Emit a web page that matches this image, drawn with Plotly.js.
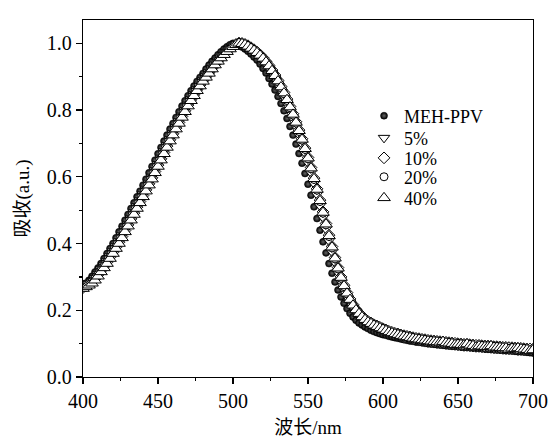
<!DOCTYPE html>
<html>
<head>
<meta charset="utf-8">
<script src="https://cdn.plot.ly/plotly-3.0.1.min.js"></script>
<style>html,body{margin:0;padding:0;background:#fff;}#chart{width:552px;height:438px;}</style>
</head>
<body>
<div id="chart"></div>
<script>
const wavelength = [400,402,404,406,408,410,412,414,416,418,420,422,424,426,428,430,432,434,436,438,440,442,444,446,448,450,452,454,456,458,460,462,464,466,468,470,472,474,476,478,480,482,484,486,488,490,492,494,496,498,500,502,504,506,508,510,512,514,516,518,520,522,524,526,528,530,532,534,536,538,540,542,544,546,548,550,552,554,556,558,560,562,564,566,568,570,572,574,576,578,580,582,584,586,588,590,592,594,596,598,600,602,604,606,608,610,612,614,616,618,620,622,624,626,628,630,632,634,636,638,640,642,644,646,648,650,652,654,656,658,660,662,664,666,668,670,672,674,676,678,680,682,684,686,688,690,692,694,696,698,700];

const seriesNames = ["MEH-PPV", "5%", "10%", "20%", "40%"];

const mehPPV = [.275,.281,.290,.302,.315,.327,.340,.355,.370,.385,.400,.417,.435,.452,.470,.487,.505,.522,.540,.557,.575,.593,.612,.631,.650,.669,.688,.707,.725,.743,.760,.778,.795,.812,.828,.843,.858,.872,.886,.898,.910,.923,.935,.946,.956,.966,.975,.983,.990,.996,1.000,.999,.995,.989,.983,.976,.968,.959,.950,.938,.925,.911,.895,.878,.860,.841,.820,.798,.775,.751,.725,.698,.670,.641,.610,.578,.545,.510,.475,.440,.405,.372,.340,.311,.285,.261,.240,.221,.205,.191,.180,.170,.162,.156,.150,.145,.140,.136,.133,.130,.127,.125,.122,.120,.118,.116,.114,.112,.110,.108,.107,.105,.104,.103,.101,.100,.099,.098,.097,.096,.095,.094,.093,.092,.092,.091,.090,.089,.089,.088,.087,.087,.086,.085,.084,.083,.083,.082,.081,.081,.080,.079,.079,.078,.077,.076,.076,.075,.074,.073,.072];

const pct5 = [.272,.277,.282,.288,.297,.309,.322,.334,.347,.362,.377,.392,.407,.424,.442,.459,.477,.494,.512,.529,.547,.564,.582,.600,.619,.638,.657,.676,.695,.713,.731,.749,.766,.783,.800,.816,.832,.847,.862,.876,.889,.901,.913,.925,.937,.948,.958,.967,.976,.984,.991,.996,.999,
.998,.994,.988,.981,.974,.966,.957,.947,.936,.923,.909,.894,.877,.859,.840,.820,.798,.775,.751,.726,.699,.671,.642,.612,.580,.547,.513,.478,.443,.408,.375,.343,.313,.286,.262,.241,.223,.207,.194,.183,.174,.167,.160,.155,.150,.146,.142,.138,
.135,.131,.128,.125,.123,.120,.118,.116,.114,.112,.110,.109,.107,.106,.104,.103,.102,.101,.100,.099,.098,.097,.096,.095,.094,.093,.092,.092,.091,.090,.089,.089,.088,.087,.087,.086,.085,.085,.084,.083,.083,.082,.082,.081,.080,.080,.079,.078,.078,.077];

const pct10 = [.268,.273,.279,.285,.294,.306,.319,.331,.344,.359,.374,.389,.404,.421,.439,.456,.474,.491,.509,.526,.544,.561,.579,.597,.616,.635,.654,.673,.692,.711,.729,.746,.763,.781,.798,.815,.831,.846,.861,.875,.888,.900,.912,.925,.937,.948,.958,.968,.977,.985,.992,.997,1.001,
1.000,.997,.993,.987,.981,.974,.966,.957,.946,.934,.920,.905,.889,.871,.853,.833,.811,.789,.765,.740,.714,.686,.658,.628,.596,.564,.530,.495,.460,.425,.391,.358,.328,.300,.275,.253,.234,.217,.203,.192,.182,.174,.167,.162,.157,.153,.149,.145,
.141,.137,.134,.131,.129,.126,.124,.122,.120,.118,.116,.115,.113,.112,.110,.109,.108,.107,.106,.105,.104,.103,.102,.101,.100,.099,.098,.098,.097,.096,.095,.095,.094,.093,.093,.092,.091,.091,.090,.089,.089,.088,.088,.087,.086,.086,.085,.084,.084,.083];

const pct20 = [.270,.275,.280,.286,.295,.307,.320,.332,.345,.360,.375,.390,.405,.422,.440,.457,.475,.492,.510,.527,.545,.562,.580,.598,.617,.636,.655,.674,.693,.712,.730,.748,.765,.782,.799,.816,.832,.847,.861,.875,.889,.901,.913,.925,.937,.948,.958,.967,.976,.984,.991,.996,.999,
.999,.995,.990,.984,.977,.970,.962,.953,.942,.930,.916,.901,.885,.867,.849,.829,.807,.785,.761,.736,.710,.682,.654,.624,.592,.560,.526,.491,.456,.421,.387,.354,.324,.296,.271,.249,.230,.213,.199,.188,.178,.170,.163,.158,.153,.149,.145,.141,
.137,.133,.130,.127,.125,.122,.120,.118,.116,.114,.112,.111,.109,.108,.106,.105,.104,.103,.102,.101,.100,.099,.098,.097,.096,.095,.094,.094,.093,.092,.091,.091,.090,.089,.089,.088,.087,.087,.086,.085,.085,.084,.084,.083,.082,.082,.081,.080,.080,.079];

const pct40 = [.265,.270,.275,.281,.290,.302,.315,.327,.340,.355,.370,.385,.400,.417,.435,.452,.470,.487,.505,.522,.540,.557,.575,.593,.612,.631,.650,.669,.688,.707,.725,.743,.760,.778,.795,.812,.828,.843,.858,.872,.886,.898,.910,.923,.935,.946,.956,.966,.975,.983,.990,.996,1.000,
.999,.996,.991,.985,.979,.972,.964,.955,.944,.932,.918,.903,.887,.869,.851,.831,.809,.787,.763,.738,.712,.684,.656,.626,.594,.562,.528,.493,.458,.423,.389,.356,.326,.298,.273,.251,.232,.215,.201,.190,.180,.172,.165,.160,.155,.151,.147,.143,
.139,.135,.132,.129,.127,.124,.122,.120,.118,.116,.114,.113,.111,.110,.108,.107,.106,.105,.104,.106,.102,.101,.100,.097,.098,.097,.096,.099,.095,.094,.090,.093,.092,.091,.091,.093,.089,.089,.088,.087,.087,.083,.086,.085,.087,.084,.083,.082,.079,.081];

const serifFamily = "Liberation Serif";
const cjkFamily = "Liberation Serif, Noto Sans CJK SC";

const styles = [
  {symbol: "circle", size: 7, color: "#000", gradient: {type: "radial", color: "#666"}, line: {color: "#000", width: 0.5}},
  {symbol: "triangle-down", size: 10, color: "#fff", line: {color: "#000", width: 1}},
  {symbol: "diamond", size: 9, color: "#fff", line: {color: "#000", width: 1}},
  {symbol: "circle", size: 8, color: "#fff", line: {color: "#000", width: 1}},
  {symbol: "triangle-up", size: 11, color: "#fff", line: {color: "#000", width: 1}}
];
const seriesData = [mehPPV, pct5, pct10, pct20, pct40];
const legendIds = ["legend", "legend2", "legend3", "legend4", "legend5"];

const traces = seriesData.map((ys, i) => {
  const n = Math.min(ys.length, wavelength.length);
  return {
    type: "scatter", mode: "markers", name: seriesNames[i],
    x: wavelength.slice(0, n), y: ys.slice(0, n),
    marker: styles[i], legend: legendIds[i]
  };
});

const legendY = [0.731, 0.669, 0.613, 0.560, 0.501];
const layout = {
  width: 552, height: 438,
  margin: {l: 83, r: 19, t: 20, b: 61},
  paper_bgcolor: "#fff", plot_bgcolor: "#fff",
  font: {family: serifFamily, color: "#000", size: 20},
  showlegend: true,
  xaxis: {
    range: [400, 700], dtick: 50, tick0: 400,
    ticks: "outside", ticklen: 6, tickwidth: 1.2, tickcolor: "#000",
    minor: {dtick: 25, ticks: "outside", ticklen: 3, tickwidth: 1.2, tickcolor: "#000"},
    showline: true, linecolor: "#000", linewidth: 1.3, mirror: true,
    showgrid: false, zeroline: false,
    tickfont: {family: serifFamily, size: 20, color: "#000"},
    title: {text: "波长/nm", font: {family: cjkFamily, size: 19, color: "#000"}, standoff: 12}
  },
  yaxis: {
    range: [0, 1.07], dtick: 0.2, tick0: 0, tickformat: ".1f",
    ticks: "outside", ticklen: 6, tickwidth: 1.2, tickcolor: "#000",
    minor: {dtick: 0.1, ticks: "outside", ticklen: 3, tickwidth: 1.2, tickcolor: "#000"},
    showline: true, linecolor: "#000", linewidth: 1.3, mirror: true,
    showgrid: false, zeroline: false,
    tickfont: {family: serifFamily, size: 20, color: "#000"},
    title: {text: "吸收(a.u.)", font: {family: cjkFamily, size: 19, color: "#000"}, standoff: 12}
  }
};
legendIds.forEach((id, i) => {
  layout[id] = {
    x: 0.6245, y: legendY[i], xanchor: "left", yanchor: "middle",
    bgcolor: "rgba(0,0,0,0)", borderwidth: 0, itemwidth: 30,
    font: {family: serifFamily, size: 18, color: "#000"}
  };
});

Plotly.newPlot("chart", traces, layout, {displayModeBar: false, staticPlot: true});
</script>
</body>
</html>
